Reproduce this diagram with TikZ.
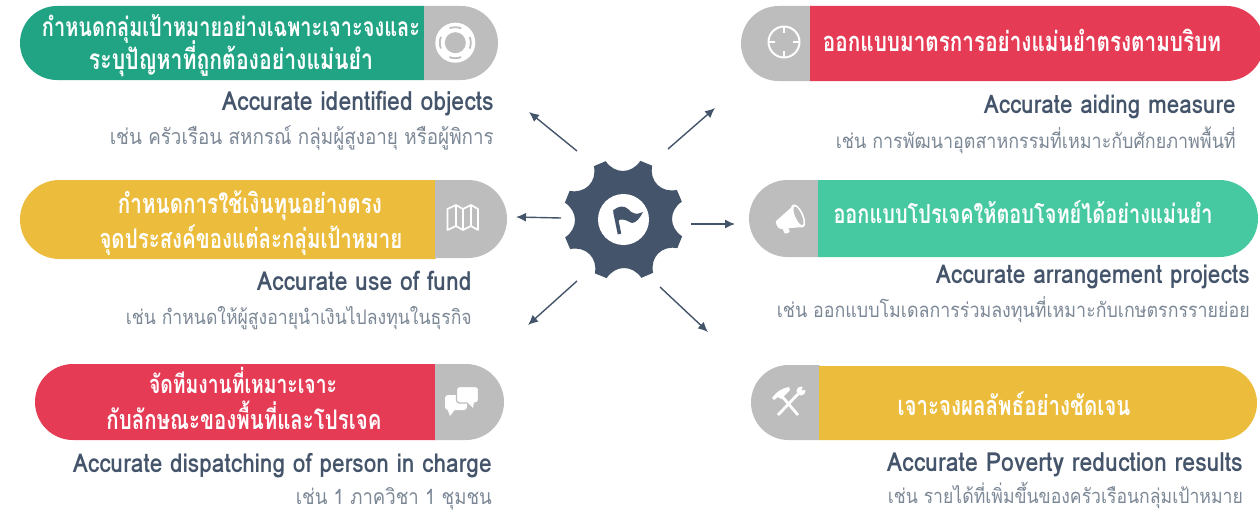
\documentclass[tikz,border=0pt]{standalone}
\usepackage{fontspec}
\usepackage{graphicx}
\newfontfamily\thaifont[Script=Thai]{Loma}
\usetikzlibrary{arrows.meta}
\definecolor{pgreen}{HTML}{20A484}
\definecolor{pmint}{HTML}{46C8A0}
\definecolor{pred}{HTML}{E53B55}
\definecolor{pyellow}{HTML}{ECBC3C}
\definecolor{pgray}{HTML}{BDBDBD}
\definecolor{slate}{HTML}{44546A}
\definecolor{exgray}{HTML}{7C8896}
\tikzset{
  pilltext/.style={anchor=base,inner sep=0pt,text=white,font=\thaifont\bfseries\fontsize{20}{24}\selectfont},
  headtext/.style={anchor=base east,inner sep=0pt,text=slate,font=\thaifont\bfseries\fontsize{20}{24}\selectfont},
  extext/.style={anchor=base east,inner sep=0pt,text=exgray,font=\thaifont\fontsize{20}{24}\selectfont},
  spoke/.style={draw=slate,line width=1.4pt,-{Latex[length=10pt,width=9pt]}},
  iconline/.style={draw=white,line width=2pt,line join=round},
}
\newcommand{\halfpill}[5]{% rounded x, split x, top, bottom, colour
  \pgfmathsetmacro{\pr}{(#4-#3)/2}
  \fill[#5] (#2,#3) [rounded corners=\pr pt] -- (#1,#3) -- (#1,#4) [sharp corners] -- (#2,#4) -- cycle;}
\newcommand{\fitw}[2]{\scalebox{1}[1.14]{\resizebox{#1pt}{!}{#2}}}
\newcommand{\fitp}[2]{\scalebox{1}[1.32]{\resizebox{#1pt}{!}{#2}}}
\begin{document}
\begin{tikzpicture}[x=1pt,y=-1pt]
\path[use as bounding box] (0,0) rectangle (1260,511);
% pills
\halfpill{20}{424.5}{6}{80}{pgreen}\halfpill{498}{424}{6}{80}{pgray}
\halfpill{741}{810.5}{6}{81}{pgray}\halfpill{1264}{810}{6}{81}{pred}
\halfpill{20}{435.5}{180}{259}{pyellow}\halfpill{507}{435}{180}{258}{pgray}
\halfpill{749}{818.5}{180}{257}{pgray}\halfpill{1258}{818}{180}{257}{pmint}
\halfpill{35}{435.5}{364}{440}{pred}\halfpill{504}{435}{364}{440}{pgray}
\halfpill{751}{819.5}{365}{440}{pgray}\halfpill{1257}{819}{366}{440}{pyellow}
% pill text
\node[pilltext] (t1a) at (231,37) {\fitp{378}{กำหนดกลุ่มเป้าหมายอย่างเฉพาะเจาะจงและ}};
\node[pilltext] (t1b) at (231,70) {\fitp{284}{ระบุปัญหาที่ถูกต้องอย่างแม่นยำ}};
\node[pilltext] (t2a) at (1022,52) {\fitp{398}{ออกแบบมาตรการอย่างแม่นยำตรงตามบริบท}};
\node[pilltext] (t3a) at (250,213) {\fitp{264}{กำหนดการใช้เงินทุนอย่างตรง}};
\node[pilltext] (t3b) at (251,248) {\fitp{303}{จุดประสงค์ของแต่ละกลุ่มเป้าหมาย}};
\node[pilltext] (t4a) at (1023,223) {\fitp{379}{ออกแบบโปรเจคให้ตอบโจทย์ได้อย่างแม่นยำ}};
\node[pilltext] (t5a) at (243,393) {\fitp{188}{จัดทีมงานที่เหมาะเจาะ}};
\node[pilltext] (t5b) at (244,429) {\fitp{275}{กับลักษณะของพื้นที่และโปรเจค}};
\node[pilltext] (t6a) at (1014,415) {\fitp{233}{เจาะจงผลลัพธ์อย่างชัดเจน}};
% headings
\node[headtext] (h1) at (494,110) {\fitw{272}{Accurate identified objects}};
\node[headtext] (h2) at (1236,113) {\fitw{252}{Accurate aiding measure}};
\node[headtext] (h3) at (472,290) {\fitw{215}{Accurate use of fund}};
\node[headtext] (h4) at (1250,283) {\fitw{314}{Accurate arrangement projects}};
\node[headtext] (h5) at (492,472) {\fitw{419}{Accurate dispatching of person in charge}};
\node[headtext] (h6) at (1243,471) {\fitw{356}{Accurate Poverty reduction results}};
% examples
\node[extext] (e1) at (494,144) {\fitw{384}{เช่น ครัวเรือน สหกรณ์ กลุ่มผู้สูงอายุ หรือผู้พิการ}};
\node[extext] (e2) at (1236,148) {\fitw{400}{เช่น การพัฒนาอุตสาหกรรมที่เหมาะกับศักยภาพพื้นที่}};
\node[extext] (e3) at (472,324) {\fitw{346}{เช่น กำหนดให้ผู้สูงอายุนำเงินไปลงทุนในธุรกิจ}};
\node[extext] (e4) at (1250,317) {\fitw{473}{เช่น ออกแบบโมเดลการร่วมลงทุนที่เหมาะกับเกษตรกรรายย่อย}};
\node[extext] (e5) at (492,504) {\fitw{196}{เช่น 1 ภาควิชา 1 ชุมชน}};
\node[extext] (e6) at (1243,503) {\fitw{355}{เช่น รายได้ที่เพิ่มขึ้นของครัวเรือนกลุ่มเป้าหมาย}};
% gear
\begin{scope}[shift={(623.5,219.5)}]
\fill[slate,line join=round] (16:61)
  \foreach \a in {16,61,106,151,196,241,286,331}{
    -- (\a:61) -- (\a+12:61)
    .. controls (\a+18:46) and (\a+39:46) .. (\a+45:61)
  } -- cycle;
\fill[white] (0,0) circle[radius=25.5];
\end{scope}
% flag
\draw[slate,line width=3.6pt] (615,212) -- (619.5,234);
\fill[slate] (613,210.5) .. controls (618,206) and (624,205) .. (628,209)
  .. controls (632,214) and (637,215) .. (643,212)
  .. controls (640,218) and (636,223) .. (632,223)
  .. controls (628,222) and (622,216) .. (617,222) -- cycle;
% arrows
\coordinate (nwA) at (577,151); \coordinate (nwB) at (529,112);
\coordinate (neA) at (668,149); \coordinate (neB) at (715,108);
\coordinate (wA) at (561,218);  \coordinate (wB) at (516,217);
\coordinate (eA) at (691,224);  \coordinate (eB) at (735,224);
\coordinate (swA) at (577,281); \coordinate (swB) at (528,325);
\coordinate (seA) at (660,287); \coordinate (seB) at (708,332);
\draw[spoke] (nwA) -- (nwB);
\draw[spoke] (neA) -- (neB);
\draw[spoke] (wA) -- (wB);
\draw[spoke] (eA) -- (eB);
\draw[spoke] (swA) -- (swB);
\draw[spoke] (seA) -- (seB);
% icon: lifebuoy
\fill[white] (455.3,42.7) circle[radius=20];
\fill[pgray] (455.3,42.7) circle[radius=10.5];
\draw[pgray,line width=1.8pt,dash pattern=on 12pt off 12.35pt,dash phase=6pt] (455.3,42.7) circle[radius=15.5];
% icon: target
\draw[iconline] (784,42) circle[radius=15.5];
\draw[iconline] (784,26.5) -- (784,33) (784,51) -- (784,57.5) (768.5,42) -- (775,42) (793,42) -- (799.5,42);
% icon: map
\draw[iconline,line width=1.7pt] (447.5,209) -- (456,205) -- (463,209) -- (471,205) -- (478,209) -- (478,230) -- (471,226) -- (463,230) -- (456,226) -- (447.5,230) -- cycle
  (456,205) -- (456,226) (463,209) -- (463,230) (471,205) -- (471,226);
% icon: megaphone
\fill[white,rounded corners=1.5pt] (775,222) -- (794,205) -- (803,227) -- (779,229) -- cycle;
\fill[white,rounded corners=1pt] (781,226) -- (787,225) -- (790,232) -- (785,234) -- cycle;
\fill[white,rotate around={24:(798,216)}] (798,216) ellipse[x radius=5.5pt,y radius=12.5pt];
\fill[pgray,rotate around={24:(798,216)}] (798.5,216) ellipse[x radius=3.2pt,y radius=10pt];
% icon: chat
\fill[white,rounded corners=3pt] (445,395) rectangle (467,410);
\fill[white] (447,408) -- (450,416) -- (456,408) -- cycle;
\fill[white,draw=pgray,line width=1.2pt,rounded corners=3pt] (456.5,386.5) rectangle (478.5,403);
\fill[white] (467,402) -- (473,408) -- (474,402) -- cycle;
% icon: tools
\draw[white,line width=2.8pt] (798,415) -- (780,394);
\fill[white] (772,398) .. controls (776,392) and (782,388) .. (789,387) -- (790,390) -- (781,399) -- (778,397) -- (774,400) -- cycle;
\draw[white,line width=2.8pt] (778,415) -- (798,394);
\fill[white] (801,391) circle[radius=4.5];
\fill[pgray] (801.5,390.5) -- (803.5,385) -- (807.5,389) -- cycle;
\end{tikzpicture}
\end{document}
